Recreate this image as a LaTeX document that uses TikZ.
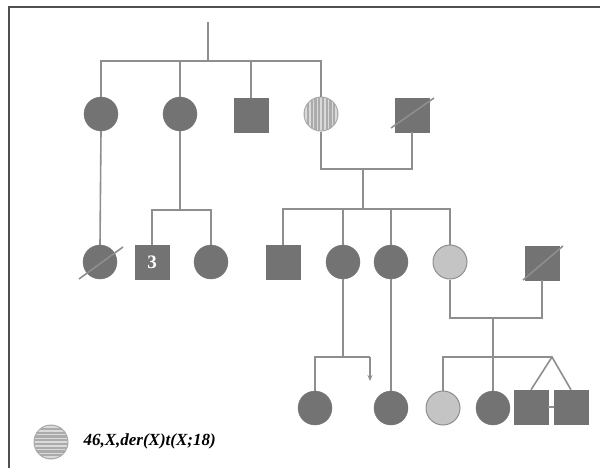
\documentclass[tikz,border=0pt]{standalone}
\usepackage{fontspec}
\setmainfont{Liberation Serif}
\usetikzlibrary{arrows.meta}
\definecolor{dfill}{HTML}{737373}
\definecolor{lnc}{HTML}{8E8E8E}
\definecolor{frm}{HTML}{505050}
\definecolor{lfill}{HTML}{C4C4C4}
\definecolor{hbg}{HTML}{ABABAB}
\definecolor{hst}{HTML}{DADADA}
\begin{document}
\begin{tikzpicture}[x=1pt,y=-1pt,
  ln/.style={draw=lnc,line width=1.6pt},
  fem/.style={circle,minimum size=34pt,inner sep=0pt,fill=dfill,draw=dfill},
  mal/.style={rectangle,minimum size=34pt,inner sep=0pt,fill=dfill,draw=dfill},
  lfem/.style={circle,minimum size=34pt,inner sep=0pt,fill=lfill,draw=lnc,line width=1pt},
  vhatch/.style={circle,minimum size=34pt,inner sep=0pt,fill=hbg,draw=hbg,line width=1pt,
    path picture={\foreach \i in {-15,-11.25,...,15}
      \draw[hst,line width=1.5pt] ([xshift=\i pt]path picture bounding box.north) -- ([xshift=\i pt]path picture bounding box.south);}},
  hhatch/.style={circle,minimum size=34pt,inner sep=0pt,fill=hbg,draw=hbg,line width=1pt,
    path picture={\foreach \i in {-15,-11.25,...,15}
      \draw[hst,line width=1.5pt] ([yshift=\i pt]path picture bounding box.west) -- ([yshift=\i pt]path picture bounding box.east);}},
  frame/.style={draw=frm,line width=1.5pt}]
\useasboundingbox (0,0) rectangle (600,467);
% frame
\coordinate (f1) at (9,470);
\coordinate (f2) at (9,7);
\coordinate (f3) at (603,7);
\draw[frame] (f1) -- (f2) -- (f3);

% Generation I
\node[fem] (I1) at (101,114) {};
\node[fem] (I2) at (180,114) {};
\node[mal] (I3) at (251,115) {};
\node[vhatch] (I4) at (321,114) {};
\node[mal] (I5) at (412,115) {};

% Generation II
\node[fem] (II1) at (100,262) {};
\node[mal,text=white,font=\fontsize{19}{20}\selectfont\bfseries] (II2) at (152,262) {3};
\node[fem] (II3) at (211,262) {};
\node[mal] (II4) at (283,262) {};
\node[fem] (II5) at (343,262) {};
\node[fem] (II6) at (391,262) {};
\node[lfem] (II7) at (450,262) {};
\node[mal] (II8) at (542,263) {};

% Generation III
\node[fem] (III1) at (315,408) {};
\node[fem] (III2) at (391,408) {};
\node[lfem] (III3) at (443,408) {};
\node[fem] (III4) at (493,408) {};
\node[mal] (III5) at (531,407) {};
\node[mal] (III6) at (571,407) {};

% legend
\node[hhatch] (L) at (51,442) {};
\node[anchor=west,font=\fontsize{17}{19}\selectfont\bfseries\itshape] (Lt) at (80,441) {46,X,der(X)t(X;18)};

% connectors
\coordinate (t0) at (208,22);
\coordinate (s1) at (208,61);
\draw[ln] (t0) -- (s1);
\draw[ln] (I1.north) -- (I1.north |- s1) -- (I4.north |- s1) -- (I4.north);
\draw[ln] (I2.north) -- (I2.north |- s1);
\draw[ln] (I3.north) -- (I3.north |- s1);

\draw[ln] (I1.south) -- (II1.north);

\coordinate (s2a) at (180,210);
\draw[ln] (I2.south) -- (s2a);
\draw[ln] (II2.north) -- (II2.north |- s2a) -- (II3.north |- s2a) -- (II3.north);

\coordinate (m1) at (363,169);
\coordinate (s2b) at (363,209);
\draw[ln] (I4.south) -- (I4.south |- m1) -- (I5.south |- m1) -- (I5.south);
\draw[ln] (m1) -- (s2b);
\draw[ln] (II4.north) -- (II4.north |- s2b) -- (II7.north |- s2b) -- (II7.north);
\draw[ln] (II5.north) -- (II5.north |- s2b);
\draw[ln] (II6.north) -- (II6.north |- s2b);

\coordinate (s3a) at (343,357);
\coordinate (ar1) at (370,357);
\coordinate (ar2) at (370,381);
\draw[ln] (II5.south) -- (s3a);
\draw[ln] (III1.north) -- (III1.north |- s3a) -- (ar1);
\draw[ln,-{Stealth[length=6pt,width=5pt]}] (ar1) -- (ar2);

\draw[ln] (II6.south) -- (III2.north);

\coordinate (m2) at (493,318);
\coordinate (tw) at (552,357);
\draw[ln] (II7.south) -- (II7.south |- m2) -- (II8.south |- m2) -- (II8.south);
\draw[ln] (m2) -- (III4.north);
\draw[ln] (III3.north) -- (III3.north |- tw) -- (tw);
\draw[ln] (III5.north) -- (tw) -- (III6.north);
\draw[ln] (III5.east) -- (III6.west);

% deceased slashes
\draw[ln] ([shift={(-21,17)}]II1.center) -- ([shift={(23,-15)}]II1.center);
\draw[ln] ([shift={(-21,13)}]I5.center) -- ([shift={(22,-17)}]I5.center);
\draw[ln] ([shift={(-19,17)}]II8.center) -- ([shift={(21,-17)}]II8.center);
\end{tikzpicture}
\end{document}
